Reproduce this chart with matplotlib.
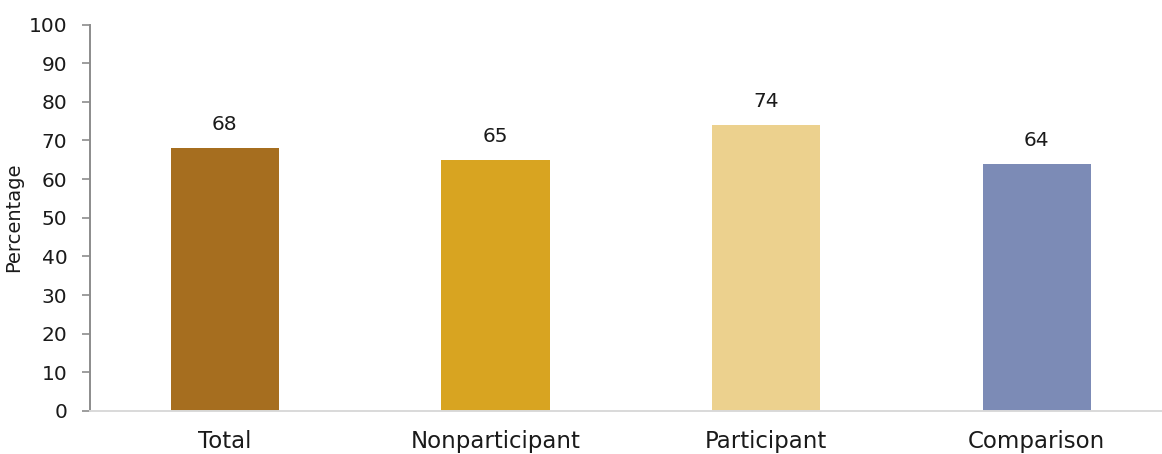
import matplotlib
matplotlib.use("Agg")
import matplotlib.pyplot as plt

categories = ["Total", "Nonparticipant", "Participant", "Comparison"]
percentages = [68, 65, 74, 64]
bar_colors = ["#A66E1F", "#D8A421", "#ECD18E", "#7C8BB6"]

plt.rcParams["font.family"] = ["DejaVu Sans"]

fig = plt.figure(figsize=(11.62, 4.54), dpi=100)
# axes run slightly past the right edge, so the baseline reaches the border
ax = fig.add_axes([89.5 / 1162, 43 / 454, (1172 - 89.5) / 1162, 386.5 / 454])

x = range(len(categories))
bars = ax.bar(x, percentages, width=0.40, color=bar_colors)

for rect, val in zip(bars, percentages):
    ax.annotate(str(val), (rect.get_x() + rect.get_width() / 2, val),
                xytext=(0, 10), textcoords="offset points",
                ha="center", va="bottom", fontsize=14.5, color="#1a1a1a")

ax.set_xlim(-0.5, len(categories) - 0.5)
ax.set_ylim(0, 100)
ax.set_yticks(range(0, 101, 10))
ax.set_xticks(list(x))
ax.set_xticklabels(categories)
ax.tick_params(axis="x", length=0, pad=14, labelsize=16.5, labelcolor="#1a1a1a")
ax.tick_params(axis="y", length=6, width=1.2, color="#8c8c8c", pad=10,
               labelsize=14.5, labelcolor="#1a1a1a")

ax.set_ylabel("Percentage", fontsize=14, color="#1a1a1a", labelpad=4)

for side in ("top", "right"):
    ax.spines[side].set_visible(False)
ax.spines["left"].set_color("#8c8c8c")
ax.spines["left"].set_linewidth(1.4)
ax.spines["bottom"].set_color("#d9d9d9")
ax.spines["bottom"].set_linewidth(1.4)

fig.savefig("out.png", dpi=100)
